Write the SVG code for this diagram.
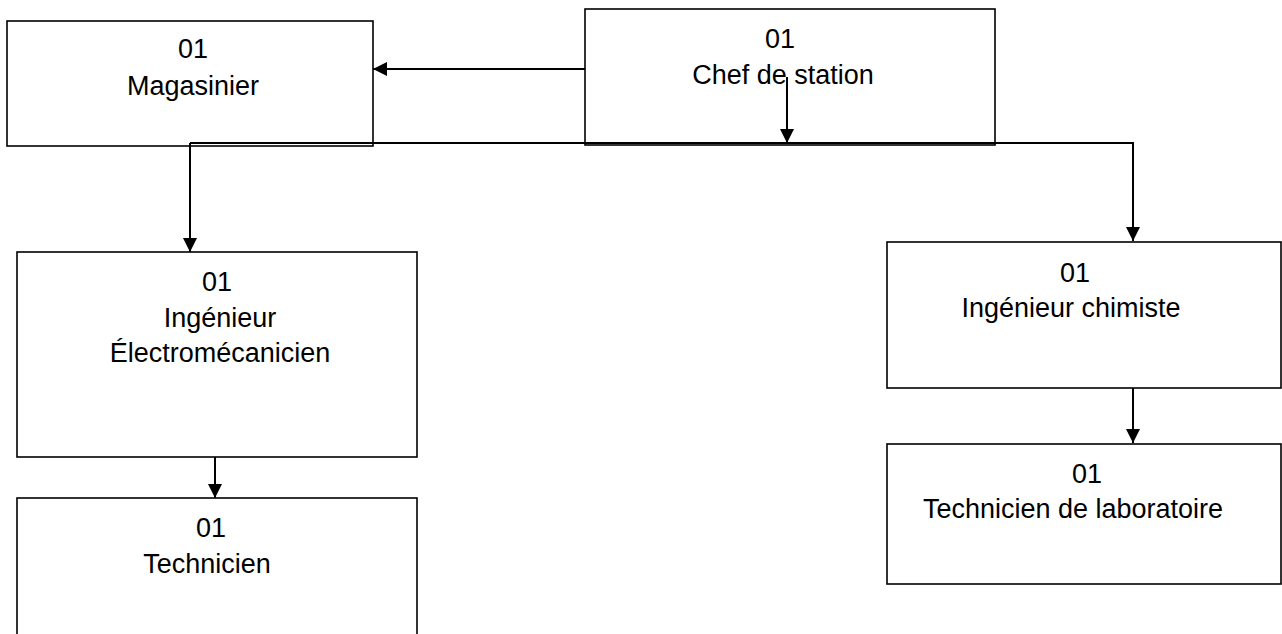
<svg xmlns="http://www.w3.org/2000/svg" width="1282" height="634" viewBox="0 0 1282 634">
<style>
.box{fill:#fff;stroke:#000;stroke-width:1.6}
.t{font-family:"Liberation Sans",Arial,sans-serif;font-size:27px;fill:#000;text-anchor:middle}
.c{fill:none;stroke:#000;stroke-width:2}
</style>
<defs>
<marker id="ah" markerUnits="userSpaceOnUse" markerWidth="15" markerHeight="15" refX="14" refY="7" orient="auto">
<path d="M0,0 L14,7 L0,14 z" fill="#000"/>
</marker>
</defs>
<rect width="1282" height="634" fill="#fff"/>
<g id="magasinier">
<rect class="box" x="7" y="21" width="366" height="125"/>
<text class="t" x="193" y="58">01</text>
<text class="t" x="193" y="95">Magasinier</text>
</g>
<g id="chef">
<rect class="box" x="585" y="9" width="410" height="136"/>
<text class="t" x="780" y="48">01</text>
<text class="t" x="783" y="84">Chef de station</text>
</g>
<g id="ing-electro">
<rect class="box" x="17" y="252" width="400" height="205"/>
<text class="t" x="217" y="291">01</text>
<text class="t" x="220" y="327">Ingénieur</text>
<text class="t" x="220" y="362">Électromécanicien</text>
</g>
<g id="technicien">
<rect class="box" x="17" y="498" width="400" height="150"/>
<text class="t" x="211" y="537">01</text>
<text class="t" x="207" y="573">Technicien</text>
</g>
<g id="ing-chimiste">
<rect class="box" x="887" y="242" width="394" height="146"/>
<text class="t" x="1075" y="282">01</text>
<text class="t" x="1071" y="317">Ingénieur chimiste</text>
</g>
<g id="tech-labo">
<rect class="box" x="887" y="444" width="394" height="140"/>
<text class="t" x="1087" y="483">01</text>
<text class="t" x="1073" y="518">Technicien de laboratoire</text>
</g>
<g id="connectors">
<path class="c" d="M585,69 H373" marker-end="url(#ah)"/>
<path class="c" d="M787,77 V143" marker-end="url(#ah)"/>
<path class="c" d="M190,143 H1133 V241" marker-end="url(#ah)"/>
<path class="c" d="M190,143 V252" marker-end="url(#ah)"/>
<path class="c" d="M215,457 V498" marker-end="url(#ah)"/>
<path class="c" d="M1133,388 V443" marker-end="url(#ah)"/>
</g>
</svg>
